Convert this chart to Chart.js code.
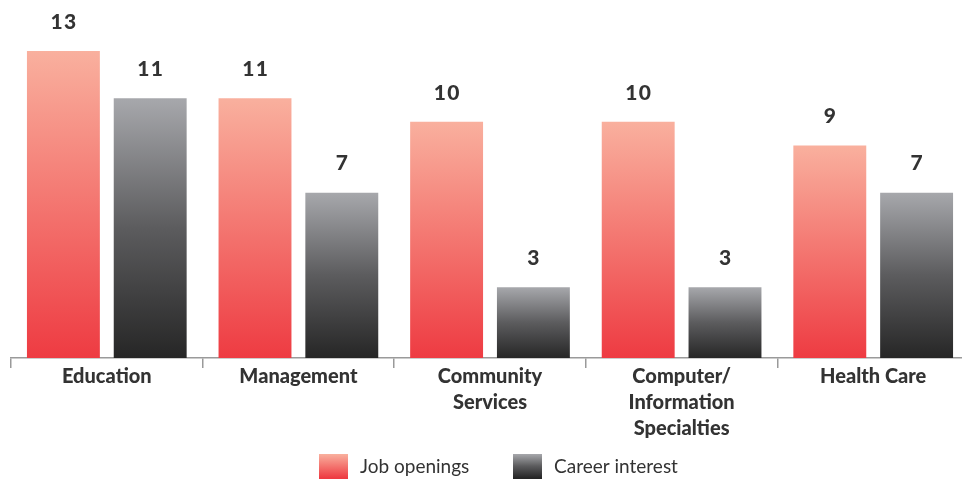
<!DOCTYPE html>
<html lang="en">
<head>
<meta charset="UTF-8">
<title>Job openings vs career interest</title>
<script src="https://cdn.jsdelivr.net/npm/chart.js@4/dist/chart.umd.min.js"></script>
<style>
  * { margin: 0; padding: 0; box-sizing: border-box; }
  html, body { width: 962px; height: 479px; overflow: hidden; background: #fff; }
  #wrap { position: relative; width: 972px; height: 479px; }
</style>
</head>
<body>
<div id="wrap"><canvas id="chart"></canvas></div>
<script>
const CATEGORIES = [['Education'], ['Management'], ['Community', 'Services'], ['Computer/', 'Information', 'Specialties'], ['Health Care']];
const JOB_OPENINGS = [13, 11, 10, 10, 9];
const CAREER_INTEREST = [11, 7, 3, 3, 7];
const SERIES_NAMES = ['Job openings', 'Career interest'];

const FONT = "'Lato', 'Open Sans', sans-serif";
const TEXT = '#333333';
const RED_STOPS = ['#f9b09e', '#ee3b42'];
const GRAY_STOPS = ['#a7a8ac', '#5c5c5e', '#262626'];

function barGradient(stops) {
  return ctx => {
    const chart = ctx.chart;
    if (!chart.chartArea || ctx.type !== 'data') return stops[stops.length - 1];
    const y = chart.scales.y;
    const top = y.getPixelForValue(ctx.raw);
    const base = y.getPixelForValue(0);
    const g = chart.ctx.createLinearGradient(0, top, 0, base);
    stops.forEach((c, i) => g.addColorStop(i / (stops.length - 1), c));
    return g;
  };
}

const valueLabels = {
  id: 'valueLabels',
  afterDatasetsDraw(chart) {
    const c = chart.ctx;
    c.save();
    c.font = "900 21px " + FONT;
    c.fillStyle = TEXT;
    c.textAlign = 'center';
    c.textBaseline = 'middle';
    chart.data.datasets.forEach((ds, i) => {
      chart.getDatasetMeta(i).data.forEach((el, j) => {
        c.fillText(String(ds.data[j]).split('').join(String.fromCharCode(8202)), el.x, el.y - 29);
      });
    });
    c.restore();
  }
};

const bottomLegend = {
  id: 'bottomLegend',
  afterDraw(chart) {
    const c = chart.ctx;
    const items = [
      { x: 319, stops: RED_STOPS, label: SERIES_NAMES[0] },
      { x: 513, stops: GRAY_STOPS, label: SERIES_NAMES[1] }
    ];
    c.save();
    c.font = "19px " + FONT;
    c.fillStyle = TEXT;
    c.textBaseline = 'middle';
    items.forEach(it => {
      const g = c.createLinearGradient(0, 454, 0, 478);
      it.stops.forEach((s, i) => g.addColorStop(i / (it.stops.length - 1), s));
      c.fillStyle = g;
      c.fillRect(it.x, 454, 29, 25);
      c.fillStyle = TEXT;
      c.fillText(it.label, it.x + 41, 467);
    });
    c.restore();
  }
};

new Chart(document.getElementById('chart'), {
  type: 'bar',
  data: {
    labels: CATEGORIES,
    datasets: [
      { label: SERIES_NAMES[0], data: JOB_OPENINGS, backgroundColor: barGradient(RED_STOPS) },
      { label: SERIES_NAMES[1], data: CAREER_INTEREST, backgroundColor: barGradient(GRAY_STOPS) }
    ]
  },
  options: {
    responsive: true,
    maintainAspectRatio: false,
    animation: false,
    categoryPercentage: 0.906,
    barPercentage: 0.84,
    layout: { padding: { left: 11, right: 3, top: 51, bottom: 0 } },
    plugins: { legend: { display: false }, tooltip: { enabled: false } },
    scales: {
      x: {
        offset: true,
        grid: { offset: true, drawOnChartArea: false, drawTicks: true, tickLength: 10, color: '#9a9a9a', lineWidth: 1.5 },
        border: { color: '#9a9a9a', width: 1.5 },
        ticks: { color: TEXT, font: { family: FONT, size: 20, weight: '900', lineHeight: 1.3 }, padding: -4, maxRotation: 0, autoSkip: false },
        afterFit: s => { s.height = 121; }
      },
      y: { display: false, min: 0, max: 13 }
    }
  },
  plugins: [valueLabels, bottomLegend]
});
</script>
</body>
</html>
